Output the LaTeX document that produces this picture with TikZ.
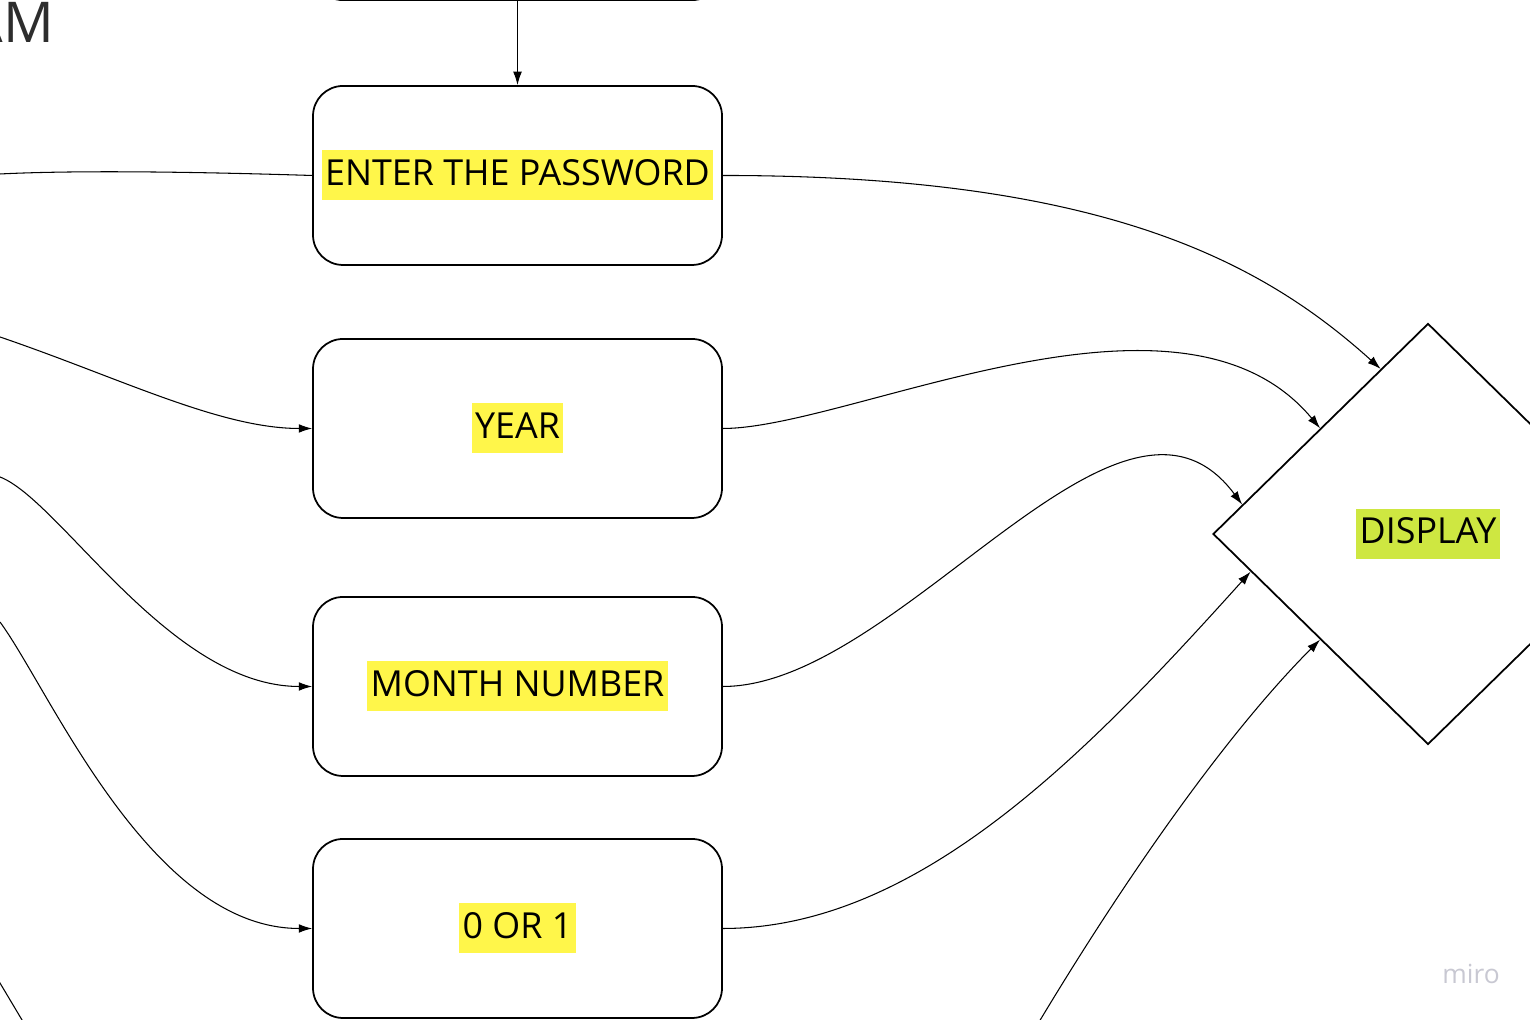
\documentclass[tikz,border=0pt]{standalone}
\usepackage{fontspec}
\setmainfont{Open Sans}
\usetikzlibrary{arrows.meta}
\usetikzlibrary{shapes.geometric}

\newcommand{\marktext}[2]{{\setlength{\fboxsep}{0pt}\colorbox{#1}{\hspace{1pt}\rule[-0.15cm]{0pt}{0.5cm}#2\hspace{1pt}}}}

\begin{document}
\begin{tikzpicture}[
		stepbox/.style={draw=black,line width=0.5pt,rounded corners=0.3cm,minimum width=4.09cm,minimum height=1.79cm,inner sep=0pt,font=\fontsize{10.2}{12}\selectfont},
		decision/.style={draw=black,line width=0.5pt,diamond,minimum width=4.3cm,minimum height=4.21cm,inner sep=0pt,font=\fontsize{10.2}{12}\selectfont},
		link/.style={draw=black,line width=0.3pt},
		flow/.style={draw=black,line width=0.3pt,-{Latex[length=3.8pt,width=2.5pt]}}]
		\definecolor{markyellow}{RGB}{255,246,74}
		\definecolor{marklime}{RGB}{206,231,65}
		\definecolor{titlegrey}{RGB}{45,45,45}
		\definecolor{logogrey}{RGB}{200,200,210}

		\useasboundingbox (0,0) rectangle (15.3,10.2);
		\clip (0,0) rectangle (15.3,10.2);

		\node[text=titlegrey,font=\fontsize{16}{19}\selectfont,inner sep=0pt,anchor=base east] (title) at (0.545,9.77) {AM};

		\node[stepbox,anchor=south] (topbox) at (5.175,10.19) {};
		\node[stepbox] (password) at (5.175,8.445) {\marktext{markyellow}{ENTER THE PASSWORD}};
		\node[stepbox] (year) at (5.175,5.915) {\marktext{markyellow}{YEAR}};
		\node[stepbox] (month) at (5.175,3.335) {\marktext{markyellow}{MONTH NUMBER}};
		\node[stepbox] (flag) at (5.175,0.915) {\marktext{markyellow}{0 OR 1}};

		\node[decision] (display) at (14.28,4.86) {\marktext{marklime}{DISPLAY}};

		\coordinate (in1) at (0,8.46);
		\coordinate (in2) at (0,6.83);
		\coordinate (in3) at (0,5.43);
		\coordinate (in4) at (0,3.98);
		\coordinate (in5a) at (-0.06,0.47);
		\coordinate (in5b) at (0.28,-0.10);
		\coordinate (in6) at (10.36,-0.07);

		\draw[flow] (topbox.south) -- (password.north);

		\draw[link] (in1) .. controls (0.8,8.5) and (2.0,8.48) .. (password.west);
		\draw[flow] (in2) .. controls (1.2,6.42) and (2.2,5.915) .. (year.west);
		\draw[flow] (in3) .. controls (0.6,5.2) and (1.7,3.335) .. (month.west);
		\draw[flow] (in4) .. controls (0.5,3.3) and (1.5,0.915) .. (flag.west);
		\draw[link] (in5a) -- (in5b);

		\draw[flow] (password.east) .. controls (11.0,8.445) and (12.6,7.6) .. (display.106);
		\draw[flow] (year.east) .. controls (8.5,5.915) and (11.8,7.6) .. (display.north west);
		\draw[flow] (month.east) .. controls (9.0,3.335) and (11.2,6.8) .. (display.171);
		\draw[flow] (flag.east) .. controls (9.2,0.915) and (10.9,2.7) .. (display.192);
		\draw[flow] (in6) .. controls (11.3,1.5) and (12.3,2.9) .. (display.south west);

		\node[text=logogrey,font=\fontsize{7.5}{9}\selectfont,inner sep=0pt,anchor=base] (logo) at (14.71,0.36) {miro};

\end{tikzpicture}
\end{document}
